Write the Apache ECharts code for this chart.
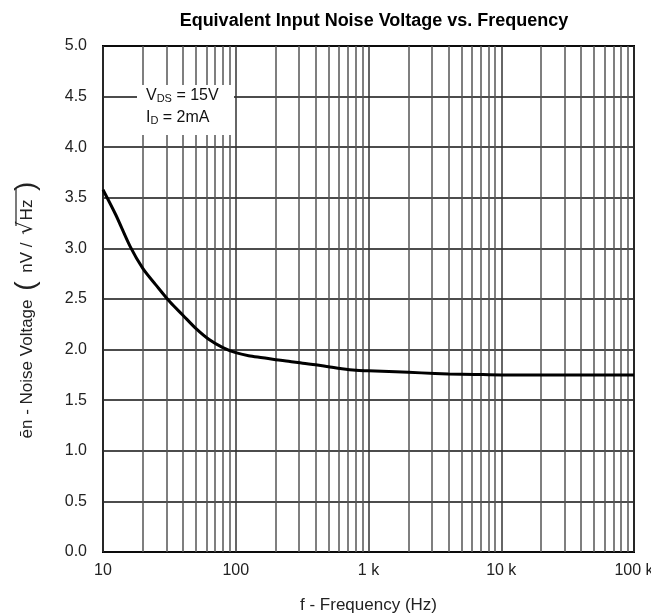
<!DOCTYPE html>
<html>
<head>
<meta charset="utf-8">
<script src="https://cdn.jsdelivr.net/npm/echarts@6/dist/echarts.min.js"></script>
<style>
  html, body { margin: 0; padding: 0; background: #fff; }
  #chart { width: 651px; height: 615px; }
</style>
</head>
<body>
<div id="chart"></div>
<script>
// Noise voltage density (nV/√Hz) against frequency (Hz)
const freqHz = [10, 12.5, 16, 20, 25, 32, 40, 50, 63, 80, 100, 125, 160, 200, 250, 320, 400, 500, 630, 800, 1000, 1600, 2500, 4000, 6300, 10000, 25000, 63000, 100000];
const noiseNv = [3.58, 3.33, 3.02, 2.80, 2.64, 2.47, 2.34, 2.21, 2.10, 2.02, 1.97, 1.94, 1.92, 1.90, 1.885, 1.865, 1.85, 1.83, 1.81, 1.795, 1.79, 1.78, 1.77, 1.76, 1.755, 1.75, 1.75, 1.75, 1.75];

// Minor grid frequencies (2..9 of each decade)
const minorGridHz = [];
[10, 100, 1000, 10000].forEach(d => { for (let m = 2; m <= 9; m++) minorGridHz.push(d * m); });

const yTicks = ['0.0', '0.5', '1.0', '1.5', '2.0', '2.5', '3.0', '3.5', '4.0', '4.5', '5.0'];

const chart = echarts.init(document.getElementById('chart'));
const font = 'Liberation Sans, Arial, sans-serif';

chart.setOption({
  animation: false,
  backgroundColor: '#fff',
  textStyle: { fontFamily: font },
  title: {
    text: 'Equivalent Input Noise Voltage vs. Frequency',
    left: 369,
    textAlign: 'center',
    top: 7,
    textStyle: { fontFamily: font, fontWeight: 'bold', fontSize: 18, color: '#000' }
  },
  grid: {
    left: 103, right: 17, top: 46, bottom: 63,
    outerBoundsMode: 'none',
    show: true, borderColor: '#000', borderWidth: 2, backgroundColor: 'transparent'
  },
  xAxis: {
    type: 'log',
    logBase: 10,
    min: 10,
    max: 100000,
    name: 'f - Frequency (Hz)',
    nameLocation: 'middle',
    nameGap: 45,
    nameTextStyle: { fontSize: 17, color: '#222', fontFamily: font },
    axisLine: { show: false },
    axisTick: { show: false },
    axisLabel: {
      fontSize: 16, color: '#222', margin: 11, fontFamily: font,
      formatter: v => v >= 1000 ? (v / 1000) + ' k' : String(v)
    },
    splitLine: { show: true, lineStyle: { color: '#333', width: 1.5 } }
  },
  yAxis: {
    type: 'value',
    min: 0,
    max: 5,
    interval: 0.5,
    name: '{t|ēn - Noise Voltage }{p|(}{t| nV / }{r|√}{t|Hz }{p|)}',
    nameLocation: 'middle',
    nameRotate: 90,
    nameGap: 60,
    nameTextStyle: {
      color: '#222',
      padding: [0, 18, 0, 0],
      rich: {
        t: { fontSize: 17, color: '#222', fontFamily: font },
        r: { fontSize: 21, color: '#222', fontFamily: 'DejaVu Sans', padding: [0, 1, 1, 3] },
        p: { fontSize: 28, color: '#222', fontFamily: font, padding: [0, 4, 3, 4] }
      }
    },
    axisLine: { show: false },
    axisTick: { show: false },
    axisLabel: {
      fontSize: 16, color: '#222', margin: 16, fontFamily: font,
      formatter: (v) => yTicks[Math.round(v * 2)]
    },
    splitLine: { show: true, lineStyle: { color: '#111', width: 1.5 } }
  },
  series: [{
    type: 'line',
    data: freqHz.map((f, i) => [f, noiseNv[i]]),
    smooth: 0.3,
    showSymbol: false,
    lineStyle: { color: '#000', width: 3 },
    z: 5,
    markLine: {
      silent: true,
      symbol: ['none', 'none'],
      label: { show: false },
      lineStyle: { type: 'solid', color: '#555', width: 1.5 },
      data: minorGridHz.map(f => ({ xAxis: f }))
    }
  }],
  graphic: [
    {
      type: 'rect', z: 50,
      shape: { x: 137, y: 85, width: 97, height: 50 },
      style: { fill: '#fff' }
    },
    {
      type: 'text', z: 51, left: 146, top: 88,
      style: {
        text: '{a|V}{s|DS}{a| = 15V}',
        rich: {
          a: { fontSize: 16, fill: '#111', fontFamily: font },
          s: { fontSize: 11, fill: '#111', fontFamily: font, verticalAlign: 'bottom', padding: [5, 0, 0, 0] }
        }
      }
    },
    {
      type: 'text', z: 51, left: 146, top: 110,
      style: {
        text: '{a|I}{s|D}{a| = 2mA}',
        rich: {
          a: { fontSize: 16, fill: '#111', fontFamily: font },
          s: { fontSize: 11, fill: '#111', fontFamily: font, verticalAlign: 'bottom', padding: [5, 0, 0, 0] }
        }
      }
    },
    {
      // radical bar over "Hz" in the y-axis name
      type: 'line', z: 51,
      shape: { x1: 16, y1: 188, x2: 16, y2: 226 },
      style: { stroke: '#222', lineWidth: 1.2 }
    }
  ]
});
</script>
</body>
</html>
